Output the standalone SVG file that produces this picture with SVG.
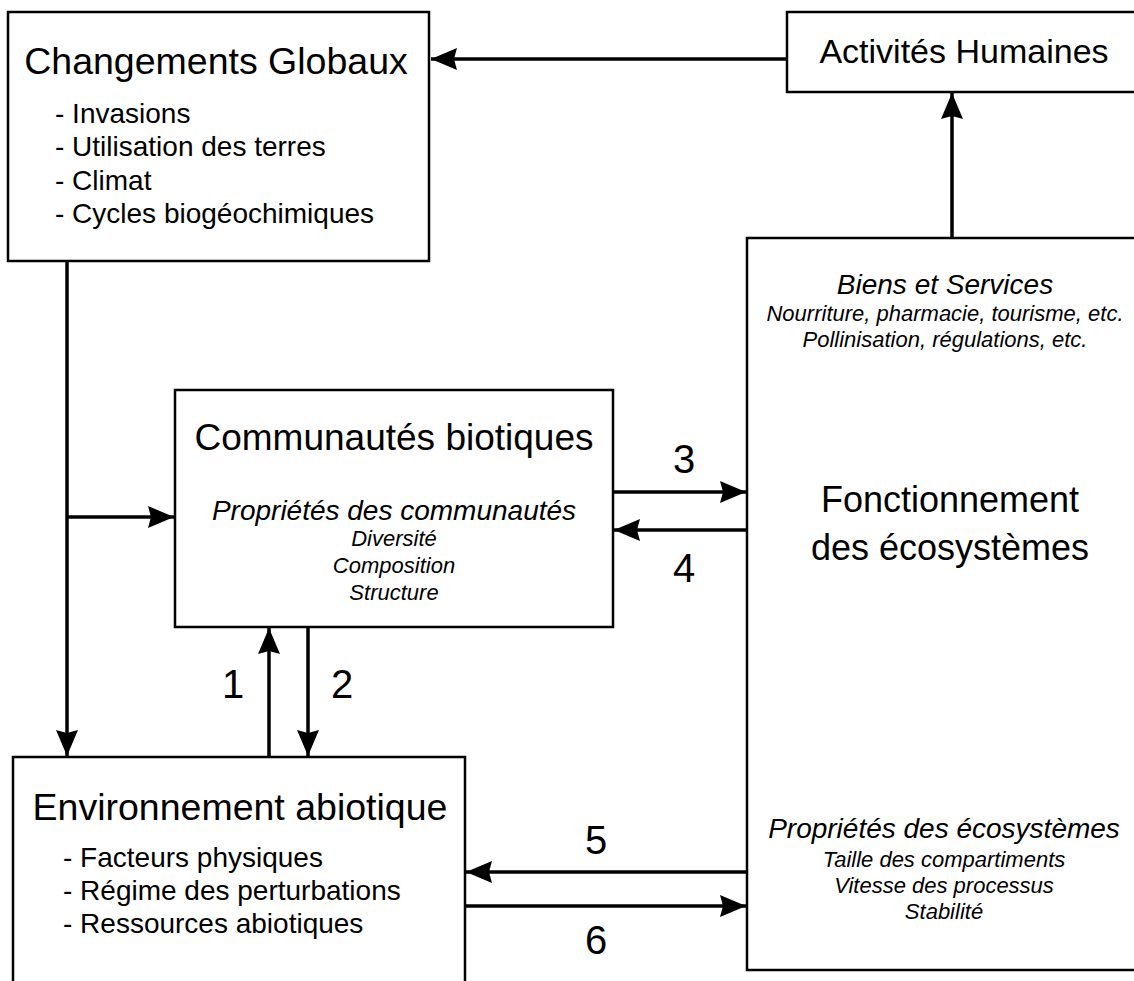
<svg xmlns="http://www.w3.org/2000/svg" width="1134" height="981" viewBox="0 0 1134 981">
<style>
.box{fill:#fff;stroke:#000;stroke-width:2.5}
.t{font-family:"Liberation Sans",Arial,sans-serif;fill:#000}
.i{font-style:italic}
.c{text-anchor:middle}
.ln{stroke:#000;stroke-width:3.5;fill:none}
.dot{stroke:#000;stroke-width:3;fill:none;stroke-dasharray:3 2}
</style>
<defs>
<marker id="ah" markerWidth="27" markerHeight="22" refX="26" refY="11" orient="auto" markerUnits="userSpaceOnUse">
<path d="M0,0 L26,11 L0,22 L3,11 Z" fill="#000"/>
</marker>
<marker id="sh" markerWidth="15" markerHeight="14" refX="14" refY="7" orient="auto" markerUnits="userSpaceOnUse">
<path d="M0,0 L14,7 L0,14 L2,7 Z" fill="#000"/>
</marker>
</defs>
<rect width="1134" height="981" fill="#fff"/>
<g id="connectors">
<line class="ln" x1="787" y1="59" x2="431" y2="59" marker-end="url(#ah)"/>
<line class="ln" x1="952" y1="238" x2="952" y2="93" marker-end="url(#ah)"/>
<line class="ln" x1="67" y1="260" x2="67" y2="756" marker-end="url(#ah)"/>
<line class="ln" x1="67" y1="517" x2="174" y2="517" marker-end="url(#ah)"/>
<line class="ln" x1="269" y1="757" x2="269" y2="628" marker-end="url(#ah)"/>
<line class="ln" x1="308" y1="627" x2="308" y2="756" marker-end="url(#ah)"/>
<line class="ln" x1="613" y1="492" x2="746" y2="492" marker-end="url(#ah)"/>
<line class="ln" x1="747" y1="530" x2="614" y2="530" marker-end="url(#ah)"/>
<line class="ln" x1="747" y1="872" x2="466" y2="872" marker-end="url(#ah)"/>
<line class="ln" x1="465" y1="906" x2="746" y2="906" marker-end="url(#ah)"/>
<line class="dot" x1="942" y1="470" x2="942" y2="363" marker-end="url(#sh)"/>
<line class="dot" x1="942" y1="572" x2="942" y2="807" marker-end="url(#sh)"/>
<text class="t c" x="684" y="473" font-size="40">3</text>
<text class="t c" x="684" y="582" font-size="40">4</text>
<text class="t c" x="233" y="698" font-size="40">1</text>
<text class="t c" x="342" y="698" font-size="40">2</text>
<text class="t c" x="596" y="854" font-size="40">5</text>
<text class="t c" x="596" y="954" font-size="40">6</text>
</g>
<g id="changements">
<rect class="box" x="8" y="12" width="421" height="249"/>
<text class="t c" x="216" y="74" font-size="37.5">Changements Globaux</text>
<text class="t" x="55" y="123" font-size="28">- Invasions</text>
<text class="t" x="55" y="156" font-size="28">- Utilisation des terres</text>
<text class="t" x="55" y="190" font-size="28">- Climat</text>
<text class="t" x="55" y="223" font-size="28">- Cycles biogéochimiques</text>
</g>
<g id="activites">
<rect class="box" x="787" y="12" width="360" height="80"/>
<text class="t c" x="964" y="63" font-size="34">Activités Humaines</text>
</g>
<g id="fonctionnement">
<rect class="box" x="747" y="238" width="400" height="732"/>
<text class="t i c" x="945" y="294" font-size="28">Biens et Services</text>
<text class="t i c" x="945" y="321" font-size="22">Nourriture, pharmacie, tourisme, etc.</text>
<text class="t i c" x="945" y="347" font-size="22">Pollinisation, régulations, etc.</text>
<text class="t c" x="950" y="512" font-size="36">Fonctionnement</text>
<text class="t c" x="950" y="560" font-size="36">des écosystèmes</text>
<text class="t i c" x="944" y="838" font-size="28">Propriétés des écosystèmes</text>
<text class="t i c" x="944" y="867" font-size="22">Taille des compartiments</text>
<text class="t i c" x="944" y="893" font-size="22">Vitesse des processus</text>
<text class="t i c" x="944" y="919" font-size="22">Stabilité</text>
</g>
<g id="communautes">
<rect class="box" x="175" y="390" width="438" height="237"/>
<text class="t c" x="394" y="450" font-size="37">Communautés biotiques</text>
<text class="t i c" x="394" y="520" font-size="28">Propriétés des communautés</text>
<text class="t i c" x="394" y="546" font-size="22">Diversité</text>
<text class="t i c" x="394" y="573" font-size="22">Composition</text>
<text class="t i c" x="394" y="600" font-size="22">Structure</text>
</g>
<g id="environnement">
<rect class="box" x="13" y="757" width="452" height="240"/>
<text class="t c" x="240" y="820" font-size="37.5">Environnement abiotique</text>
<text class="t" x="63" y="867" font-size="28">- Facteurs physiques</text>
<text class="t" x="63" y="900" font-size="28">- Régime des perturbations</text>
<text class="t" x="63" y="933" font-size="28">- Ressources abiotiques</text>
</g>
</svg>
